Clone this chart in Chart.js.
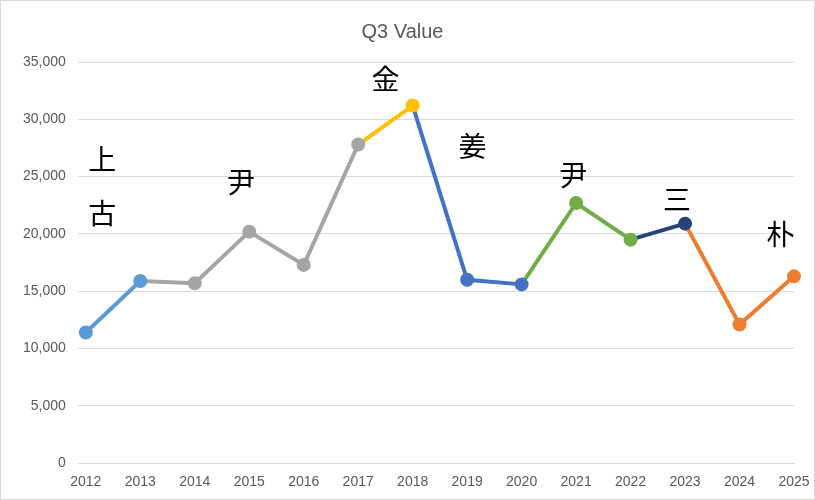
<!DOCTYPE html>
<html><head><meta charset="utf-8">
<script src="https://cdn.jsdelivr.net/npm/chart.js@4"></script>
<style>html,body{margin:0;background:#fff}#w{width:815px;height:500px;border:1px solid #d9d9d9;box-sizing:border-box}</style>
</head><body><div id="w"><canvas id="c" width="813" height="498"></canvas></div>
<script>
const categories=['2012','2013','2014','2015','2016','2017','2018','2019','2020','2021','2022','2023','2024','2025'];
const values=[11400,15900,15700,20200,17300,27800,31200,16000,15600,22700,19500,20900,12100,16300];
const segColors=['#5B9BD5','#A5A5A5','#A5A5A5','#A5A5A5','#A5A5A5','#FFC000','#4472C4','#4472C4','#70AD47','#70AD47','#264478','#ED7D31','#ED7D31'];
const pointColors=['#5B9BD5','#5B9BD5','#A5A5A5','#A5A5A5','#A5A5A5','#A5A5A5','#FFC000','#4472C4','#4472C4','#70AD47','#70AD47','#264478','#ED7D31','#ED7D31'];
const notes=[{t:'上',x:0.3,y:26500},{t:'古',x:0.3,y:21800},{t:'尹',x:2.85,y:24500},{t:'金',x:5.5,y:33500},{t:'姜',x:7.1,y:27600},{t:'尹',x:8.95,y:25100},{t:'三',x:10.85,y:23000},{t:'朴',x:12.75,y:20000}];
const notePlugin={id:'notes',afterDatasetsDraw(ch){const c=ch.ctx,x=ch.scales.x,y=ch.scales.y;c.save();c.font='28px "Noto Sans CJK KR"';c.fillStyle='#000';c.textAlign='center';c.textBaseline='middle';notes.forEach(n=>c.fillText(n.t,x.getPixelForValue(n.x),y.getPixelForValue(n.y)));c.restore();}};
new Chart(document.getElementById('c'),{type:'line',data:{labels:categories,datasets:[{data:values,borderWidth:4,pointRadius:5,pointBackgroundColor:pointColors,pointBorderColor:pointColors,segment:{borderColor:ctx=>segColors[ctx.p0DataIndex]}}]},
options:{responsive:false,animation:false,layout:{padding:{left:10,right:20,top:5,bottom:5}},plugins:{legend:{display:false},tooltip:{enabled:false},title:{display:true,text:'Q3 Value',color:'#595959',font:{size:20,family:'Liberation Sans',weight:'normal'},padding:{top:14,bottom:18}}},
scales:{x:{grid:{display:false},border:{color:'#d9d9d9'},ticks:{color:'#595959',font:{size:14}}},y:{min:0,max:35000,ticks:{stepSize:5000,color:'#595959',font:{size:14},padding:12},grid:{color:'#d9d9d9'},border:{display:false}}}},plugins:[notePlugin]});
</script>
</body></html>
